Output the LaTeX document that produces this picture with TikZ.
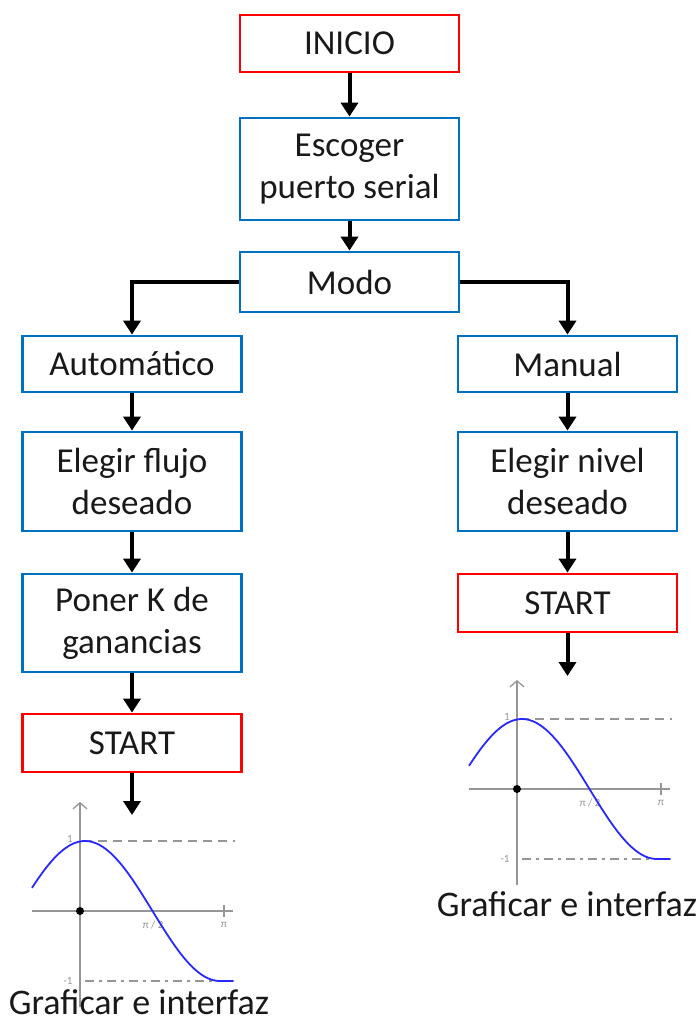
\documentclass[tikz,border=0pt]{standalone}
\usepackage{fontspec}
\setmainfont{Carlito}
\usetikzlibrary{arrows.meta}
\definecolor{boxblue}{RGB}{0,112,192}
\definecolor{boxred}{RGB}{255,0,0}
\definecolor{axgray}{RGB}{150,150,150}
\definecolor{curveblue}{RGB}{40,40,255}
\definecolor{txt}{RGB}{25,25,25}
\tikzset{
  bx/.style={draw=boxblue, line width=2.8pt, fill=white, minimum width=219pt, align=center,
     font=\fontsize{35}{42}\selectfont, text=txt, inner sep=0pt},
  rbx/.style={bx, draw=boxred},
  arr/.style={line width=4pt, -{Triangle[length=14pt,width=17pt]}},
  axisline/.style={draw=axgray, line width=1.3pt},
  lbl/.style={font=\fontsize{11}{13}\selectfont, text=axgray, inner sep=0pt},
  captext/.style={font=\fontsize{36}{42}\selectfont, text=txt, inner sep=0pt},
}
\newcommand\mygraph[2]{%
\begin{scope}[shift={(#1,#2)}]
  \draw[axisline, -{Straight Barb[length=6pt,width=14pt]}] (0,96) -- (0,-109);
  \draw[axisline] (-48,0) -- (153,0);
  \draw[axisline] (144,-6) -- (144,6);
  \draw[axisline, dash pattern=on 9pt off 6pt] (3,-70) -- (155,-70);
  \draw[axisline, dash pattern=on 9pt off 5pt on 3pt off 5pt] (5,70) -- (155,70);
  \node[lbl] at (-10,-72) {1};
  \node[lbl] at (-12,70) {-1};
  \node[lbl] at (73,14) {π / 2};
  \node[lbl] at (144,14) {π};
  \draw[curveblue, line width=1.8pt] plot[domain=-48:140, samples=80, smooth] (\x, {-70*cos((\x-5)*4/3)}) -- (153,70);
  \fill[black] (0,0) circle (4pt);
\end{scope}}
\begin{document}
\begin{tikzpicture}[x=1pt, y=-1pt]
\useasboundingbox (0,0) rectangle (699,1023);
\node[rbx, minimum height=57pt] (ini) at (349.5,43.5) {INICIO};
\node[bx, minimum height=102pt] (esc) at (349.5,169) {Escoger\\puerto serial};
\node[bx, minimum height=60pt] (modo) at (349.5,282) {Modo};
\node[bx, minimum height=56pt] (auto) at (132,364) {Automático};
\node[bx, minimum height=99pt] (flujo) at (132,481.5) {Elegir flujo\\deseado};
\node[bx, minimum height=98pt] (kgan) at (132,623) {Poner K de\\ganancias};
\node[rbx, minimum height=58pt] (startl) at (132,743) {START};
\node[bx, minimum height=56pt] (man) at (567.5,364) {Manual};
\node[bx, minimum height=99pt] (nivel) at (567.5,481.5) {Elegir nivel\\deseado};
\node[rbx, minimum height=58pt] (startr) at (567.5,603) {START};
\coordinate (endl) at (132,815);
\coordinate (endr) at (567.5,676);
\draw[arr] (ini) -- (esc);
\draw[arr] (esc) -- (modo);
\draw[arr] (modo.west) -| (auto.north);
\draw[arr] (modo.east) -| (man.north);
\draw[arr] (auto) -- (flujo);
\draw[arr] (flujo) -- (kgan);
\draw[arr] (kgan) -- (startl);
\draw[arr] (startl) -- (endl);
\draw[arr] (man) -- (nivel);
\draw[arr] (nivel) -- (startr);
\draw[arr] (startr) -- (endr);
\mygraph{80}{911}
\mygraph{517}{789}
\node[captext] (gl) at (139,1002) {Graficar e interfaz};
\node[captext] (gr) at (567,904) {Graficar e interfaz};
\end{tikzpicture}
\end{document}
